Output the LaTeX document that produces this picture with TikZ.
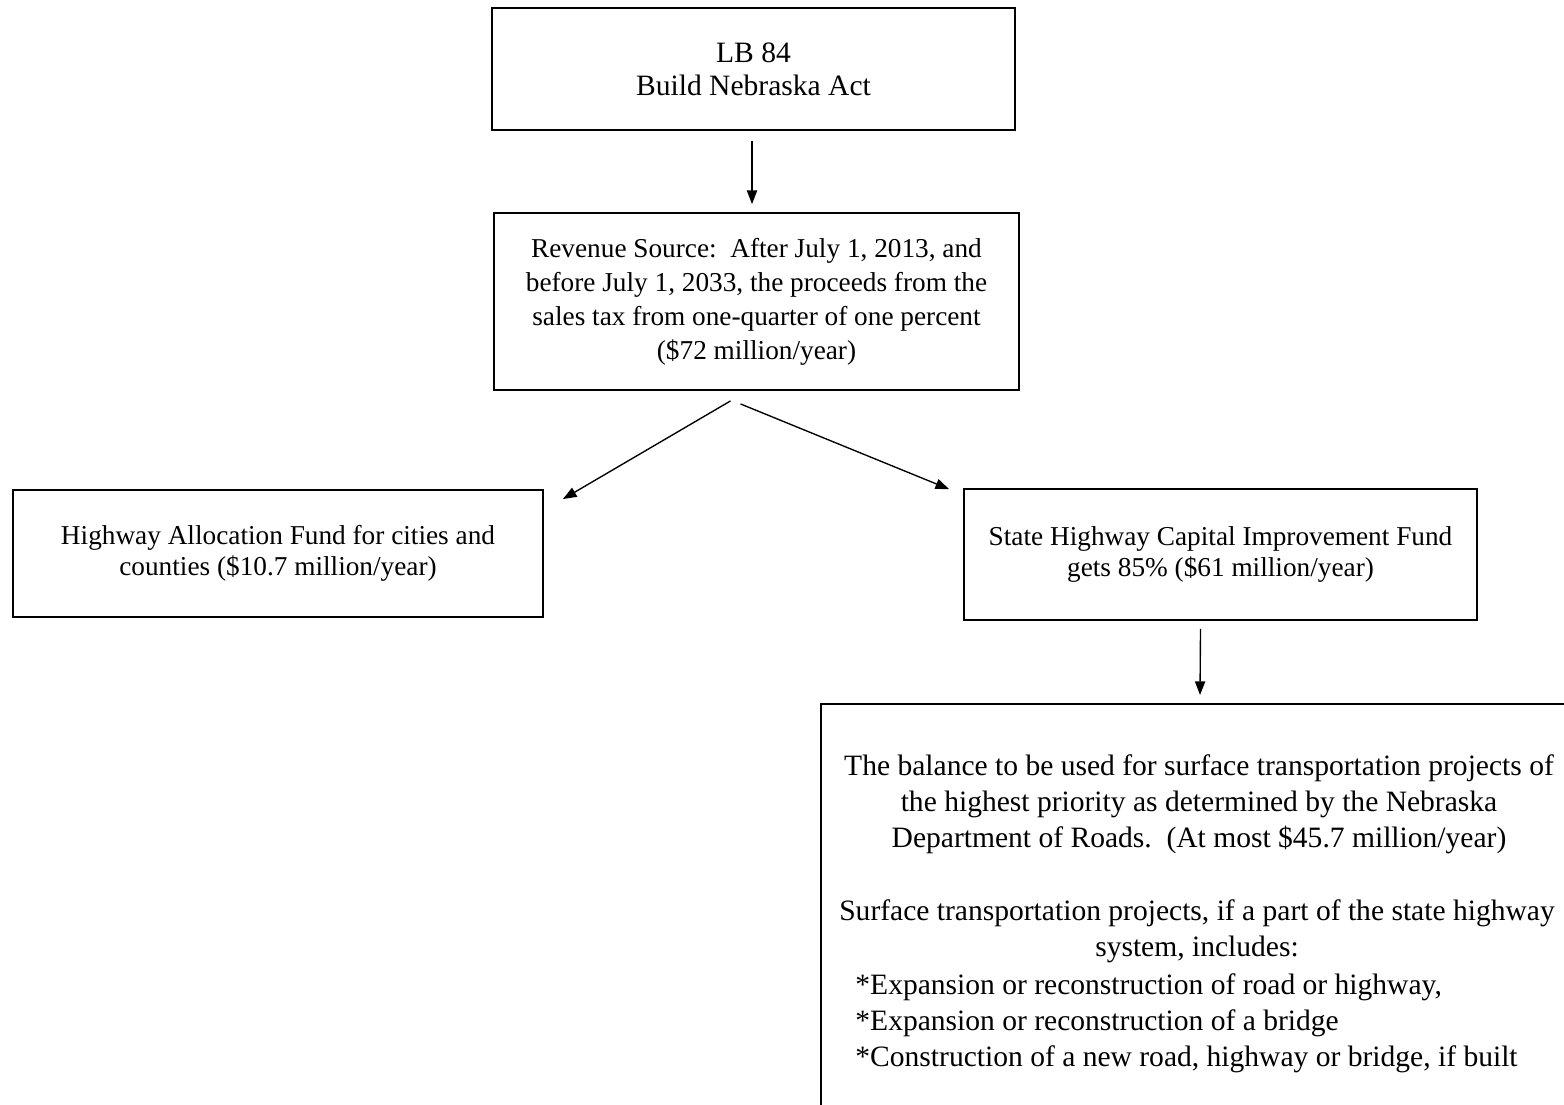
\documentclass[tikz,border=0pt]{standalone}
\usepackage{fontspec}
\setmainfont{Liberation Serif}
\usetikzlibrary{positioning,calc,arrows.meta}

\begin{document}
\begin{tikzpicture}[x=0.44pt,y=-0.44pt]

\tikzstyle{fundbox}=[draw, line width=0.8pt, inner sep=0pt, align=center, font=\fontsize{12}{15}\selectfont]
\tikzstyle{splitbox}=[fundbox, font=\fontsize{12}{13.6}\selectfont]
\tikzstyle{boxtext}=[inner sep=0pt, font=\fontsize{13}{15.8}\selectfont]
\tikzstyle{flow}=[line width=0.6pt, -{Triangle[length=6pt,width=4.5pt]}]

\useasboundingbox (0,0) rectangle (1564,1104);
\clip (0,0) rectangle (1564,1104);

% act and revenue
\node (act) [fundbox, font=\fontsize{13}{14.6}\selectfont, minimum width=230.1pt, minimum height=53.7pt, text depth=0pt] at (753.5,69)
  {LB 84\\Build Nebraska Act};
\node (rev) [fundbox, minimum width=231pt, minimum height=77.9pt] at (756.5,301.5)
  {Revenue Source:\ \ After July 1, 2013, and\\before July 1, 2033, the proceeds from the\\sales tax from one-quarter of one percent\\(\$72 million/year)};

% the two funds
\node (hwyalloc) [splitbox, minimum width=233.2pt, minimum height=55.9pt] at (278,553.5)
  {Highway Allocation Fund for cities and\\counties (\$10.7 million/year)};
\node (capfund) [splitbox, minimum width=225.7pt, minimum height=57.6pt] at (1220.5,554.5)
  {State Highway Capital Improvement Fund\\gets 85\% (\$61 million/year)};

% balance box, runs off the page
\node (bal) [draw, line width=0.8pt, anchor=north west, minimum width=343pt, minimum height=196.7pt] at (820,703) {};
\node (balance) [boxtext, align=center] at (1199,804)
  {The balance to be used for surface transportation projects of\\the highest priority as determined by the Nebraska\\Department of Roads.\ \ (At most \$45.7 million/year)};
\node (surface) [boxtext, align=center] at (1197,931)
  {Surface transportation projects, if a part of the state highway\\system, includes:};
\node (items) [boxtext, align=left, anchor=west] at (855,1023)
  {*Expansion or reconstruction of road or highway,\\*Expansion or reconstruction of a bridge\\*Construction of a new road, highway or bridge, if built};

\draw[flow] ($(act.south)+(-1.5,10)$) -- ($(act.south |- rev.north)+(-1.5,-8)$);
\draw[flow] ($(rev.south)+(-26,10)$) -- ($(hwyalloc.north east)+(19,10)$);
\draw[flow] ($(rev.south)+(-16,13)$) -- ($(capfund.north west)+(-14,1)$);
\draw[flow] ($(capfund.south)+(-20,8)$) -- ($(bal.north west)+(380,-8)$);

\end{tikzpicture}
\end{document}
